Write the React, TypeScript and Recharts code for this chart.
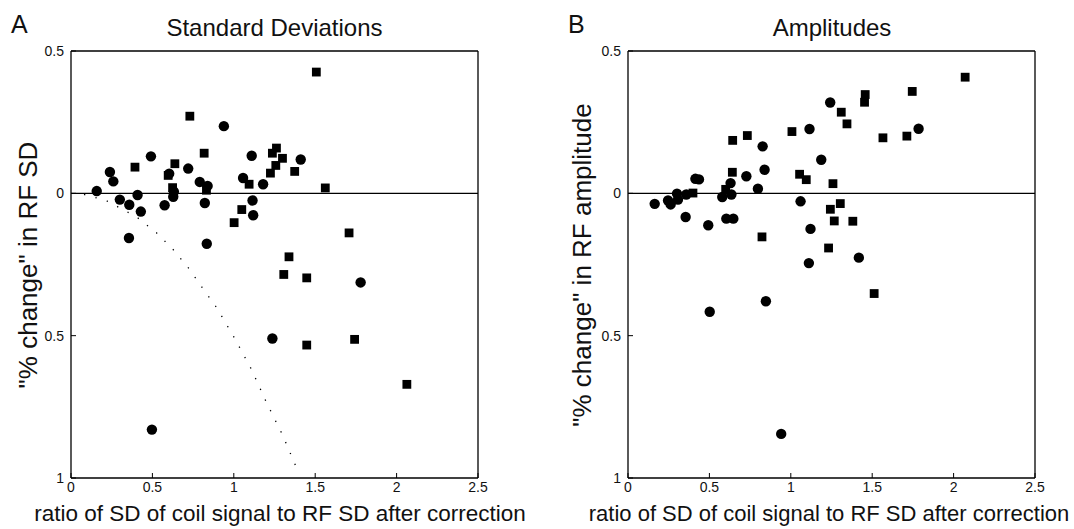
import React from "react";
import { ReferenceLine, Scatter, ScatterChart, XAxis, YAxis } from "recharts";

// Panel A: standard deviations, [ratio, change]
const sdCircles: [number, number][] = [
  [0.158, 0.008], [0.239, 0.075], [0.26, 0.042], [0.3, -0.022], [0.358, -0.04],
  [0.409, -0.006], [0.429, -0.064], [0.356, -0.157], [0.491, 0.13], [0.575, -0.042],
  [0.603, 0.069], [0.632, 0.006], [0.628, -0.012], [0.72, 0.087], [0.791, 0.04],
  [0.839, 0.026], [0.822, -0.034], [0.834, -0.177], [0.939, 0.236], [1.057, 0.054],
  [1.11, 0.132], [1.115, -0.025], [1.119, -0.077], [1.18, 0.032], [1.411, 0.119],
  [1.779, -0.313], [1.237, -0.51], [0.497, -0.83],
];
const sdSquares: [number, number][] = [
  [0.393, 0.092], [0.597, 0.063], [0.624, 0.02], [0.638, 0.104], [0.73, 0.271],
  [0.818, 0.141], [0.832, 0.011], [1.002, -0.103], [1.049, -0.057], [1.094, 0.032],
  [1.225, 0.071], [1.258, 0.098], [1.237, 0.141], [1.262, 0.159], [1.299, 0.123],
  [1.374, 0.077], [1.507, 0.426], [1.562, 0.019], [1.708, -0.139], [1.339, -0.223],
  [1.307, -0.285], [1.448, -0.297], [1.448, -0.533], [1.742, -0.513], [2.063, -0.671],
];
// dotted boundary curve in panel A
const sdCurve: [number, number][] = [
  [0.08, -0.004], [0.215, -0.025], [0.403, -0.083], [0.526, -0.139], [0.628, -0.198],
  [0.724, -0.264], [0.806, -0.331], [0.894, -0.401], [1.006, -0.51], [1.109, -0.619],
  [1.2, -0.734], [1.298, -0.847], [1.385, -0.964],
];

// Panel B: amplitudes
const ampCircles: [number, number][] = [
  [0.164, -0.037], [0.246, -0.025], [0.262, -0.039], [0.301, -0.001], [0.307, -0.022],
  [0.358, -0.004], [0.354, -0.083], [0.414, 0.051], [0.436, 0.049], [0.493, -0.112],
  [0.579, -0.013], [0.63, 0.036], [0.635, -0.004], [0.604, -0.089], [0.647, -0.089],
  [0.727, 0.06], [0.798, 0.016], [0.827, 0.165], [0.839, 0.083], [1.06, -0.028],
  [1.115, 0.226], [1.121, -0.125], [1.111, -0.245], [1.187, 0.118], [1.242, 0.319],
  [1.785, 0.227], [1.418, -0.226], [0.502, -0.416], [0.847, -0.379], [0.941, -0.845],
];
const ampSquares: [number, number][] = [
  [0.399, 0.001], [0.6, 0.014], [0.643, 0.186], [0.641, 0.074], [0.733, 0.203],
  [0.823, -0.153], [1.007, 0.217], [1.054, 0.067], [1.095, 0.048], [1.259, 0.034],
  [1.31, 0.285], [1.345, 0.244], [1.457, 0.347], [1.453, 0.32], [1.566, 0.195],
  [1.713, 0.201], [1.746, 0.358], [2.071, 0.408], [1.304, -0.036], [1.243, -0.056],
  [1.267, -0.097], [1.381, -0.098], [1.232, -0.192], [1.512, -0.352],
];

const xTicks = [0, 0.5, 1, 1.5, 2, 2.5];
const yTicks = [-1, -0.5, 0, 0.5];
const xLabel = "ratio of SD of coil signal to RF SD after correction";

const FONT = "'Liberation Sans', Arial, sans-serif";
const INK = "#000";
const tickStyle = { fontSize: 14, fill: "#111", fontFamily: FONT };

const toPts = (arr: [number, number][]) => arr.map(([x, y]) => ({ x, y }));

const Round = (p: any) => <circle cx={p.cx} cy={p.cy} r={5.2} fill={INK} />;
const Box = (p: any) => <rect x={p.cx - 4.4} y={p.cy - 4.4} width={8.8} height={8.8} fill={INK} />;
const NoMark = () => <g />;

// matlab lost the minus signs, so labels show magnitudes
const fmtY = (v: number) => String(Math.abs(v));

function Panel({
  left,
  circles,
  squares,
  curve,
}: {
  left: number;
  circles: [number, number][];
  squares: [number, number][];
  curve?: [number, number][];
}) {
  return (
    <div style={{ position: "absolute", left, top: 0 }}>
      <ScatterChart width={537} height={529} margin={{ top: 50, right: 58, bottom: 0, left: 0 }}>
        <XAxis
          type="number"
          dataKey="x"
          domain={[0, 2.5]}
          ticks={xTicks}
          height={51}
          axisLine={{ stroke: INK, strokeWidth: 1.3 }}
          tickLine={{ stroke: INK }}
          tickSize={-5}
          tickMargin={9}
          tick={tickStyle}
          tickFormatter={(v: number) => String(v)}
        />
        <XAxis
          xAxisId="top"
          orientation="top"
          type="number"
          domain={[0, 2.5]}
          ticks={xTicks}
          height={1}
          axisLine={{ stroke: INK, strokeWidth: 1.3 }}
          tickLine={{ stroke: INK }}
          tickSize={-5}
          tick={false}
        />
        <YAxis
          type="number"
          dataKey="y"
          domain={[-1, 0.5]}
          ticks={yTicks}
          width={71}
          axisLine={{ stroke: INK, strokeWidth: 1.3 }}
          tickLine={{ stroke: INK }}
          tickSize={-5}
          tickMargin={12}
          tick={tickStyle}
          tickFormatter={fmtY}
        />
        <YAxis
          yAxisId="right"
          orientation="right"
          type="number"
          domain={[-1, 0.5]}
          ticks={yTicks}
          width={1}
          axisLine={{ stroke: INK, strokeWidth: 1.3 }}
          tickLine={{ stroke: INK }}
          tickSize={-5}
          tick={false}
        />
        <ReferenceLine y={0} stroke={INK} strokeWidth={1.3} />
        {curve && (
          <Scatter
            data={toPts(curve)}
            line={{ stroke: "#000", strokeWidth: 1.3, strokeDasharray: "1.3 10.5" }}
            shape={NoMark}
            isAnimationActive={false}
          />
        )}
        <Scatter data={toPts(squares)} shape={Box} isAnimationActive={false} />
        <Scatter data={toPts(circles)} shape={Round} isAnimationActive={false} />
      </ScatterChart>
    </div>
  );
}

export default function App() {
  const txt = { fontFamily: FONT, fill: "#111" };
  return (
    <div style={{ position: "absolute", left: 0, top: 0, width: 1074, height: 529, background: "#fff" }}>
      <Panel left={0} circles={sdCircles} squares={sdSquares} curve={sdCurve} />
      <Panel left={557} circles={ampCircles} squares={ampSquares} />
      <svg width={1074} height={529} style={{ position: "absolute", left: 0, top: 0, pointerEvents: "none" }}>
        <text x={11} y={33} fontSize={25} {...txt}>A</text>
        <text x={274.5} y={36} fontSize={24} textAnchor="middle" {...txt}>Standard Deviations</text>
        <text x={568} y={33} fontSize={25} {...txt}>B</text>
        <text x={832} y={36} fontSize={24} textAnchor="middle" {...txt}>Amplitudes</text>
        <text x={280} y={521} fontSize={22.5} textAnchor="middle" {...txt}>{xLabel}</text>
        <text x={829} y={521} fontSize={22} textAnchor="middle" {...txt}>{xLabel}</text>
        <text transform="translate(37,265) rotate(-90)" fontSize={26} textAnchor="middle" {...txt}>
          "% change" in RF SD
        </text>
        <text transform="translate(591,265) rotate(-90)" fontSize={26} textAnchor="middle" {...txt}>
          "% change" in RF amplitude
        </text>
      </svg>
    </div>
  );
}
